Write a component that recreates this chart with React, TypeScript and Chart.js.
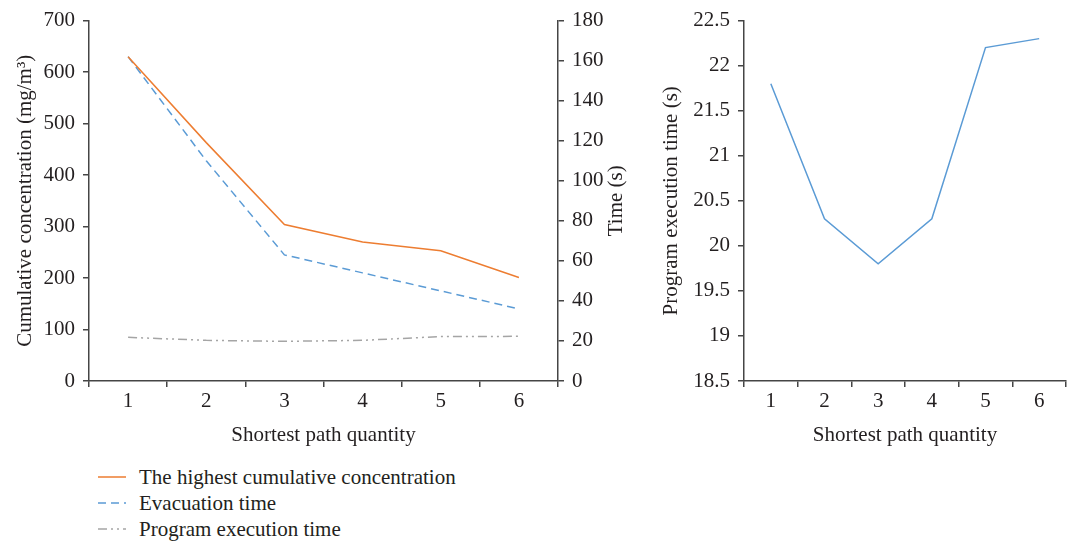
import React, { useEffect, useRef } from "react";
import { Chart, registerables } from "chart.js";

Chart.register(...registerables);

const categories = ["1", "2", "3", "4", "5", "6"];
const highestConcentration = [630, 463, 304, 270, 253, 201];
const evacuationTime = [162, 110, 63, 54, 45, 36];
const programExecutionTime = [21.8, 20.3, 19.8, 20.3, 22.2, 22.3];

const concentrationRange = [0, 700, 100];
const timeRange = [0, 180, 20];
const execRange = [18.5, 22.5, 0.5];

const seriesLabels = [
  "The highest cumulative concentration",
  "Evacuation time",
  "Program execution time",
];

const FONT_FAMILY = '"Liberation Serif", "Times New Roman", serif';
const TEXT = "#231f20";
const AXIS = "#454545";
const ORANGE = "#ED7D31";
const BLUE = "#5B9BD5";
const GRAY = "#A5A5A5";
const DASH_BLUE = [8, 5];
const DASH_GRAY = [9, 4, 2, 4, 2, 4];

const font = { family: FONT_FAMILY, size: 21 };

function baseX(title: string) {
  return {
    type: "category" as const,
    offset: true,
    grid: { offset: true, drawOnChartArea: false, drawTicks: true, tickLength: 6, color: AXIS, lineWidth: 1.5 },
    border: { display: true, color: AXIS, width: 1.5 },
    ticks: { color: TEXT, font, padding: 2, maxRotation: 0, autoSkip: false },
    title: { display: true, text: title, color: TEXT, font, padding: { top: 0, bottom: 1.5 } },
    afterFit: (s: any) => {
      s.height = 69;
    },
  };
}

function yAxis(range: number[], position: "left" | "right", width: number, title: string | null, titlePad: number) {
  return {
    type: "linear" as const,
    position,
    min: range[0],
    max: range[1],
    grid: { drawOnChartArea: false, drawTicks: true, tickLength: 6, color: AXIS, lineWidth: 1.5 },
    border: { display: true, color: AXIS, width: 1.5 },
    ticks: {
      stepSize: range[2],
      color: TEXT,
      font,
      padding: 8,
      callback: (v: any) => String(Math.round(Number(v) * 10) / 10),
    },
    title: title
      ? { display: true, text: title, color: TEXT, font, padding: { top: titlePad, bottom: 0 } }
      : { display: false },
    afterFit: (s: any) => {
      s.width = width;
    },
  };
}

const timeTitlePlugin = {
  id: "timeTitle",
  afterDraw(chart: any) {
    const { ctx, chartArea } = chart;
    ctx.save();
    ctx.translate(616, (chartArea.top + chartArea.bottom) / 2);
    ctx.rotate(-Math.PI / 2);
    ctx.textAlign = "center";
    ctx.textBaseline = "middle";
    ctx.fillStyle = TEXT;
    ctx.font = `21px ${FONT_FAMILY}`;
    ctx.fillText("Time (s)", 0, 0);
    ctx.restore();
  },
};

export default function App() {
  const leftRef = useRef<HTMLCanvasElement | null>(null);
  const rightRef = useRef<HTMLCanvasElement | null>(null);

  useEffect(() => {
    const left = new Chart(leftRef.current as HTMLCanvasElement, {
      type: "line",
      data: {
        labels: categories,
        datasets: [
          {
            label: seriesLabels[0],
            data: highestConcentration,
            yAxisID: "y",
            borderColor: ORANGE,
            borderWidth: 1.5,
            pointRadius: 0,
            tension: 0,
          },
          {
            label: seriesLabels[1],
            data: evacuationTime,
            yAxisID: "y1",
            borderColor: BLUE,
            borderWidth: 1.5,
            borderDash: DASH_BLUE,
            pointRadius: 0,
            tension: 0,
          },
          {
            label: seriesLabels[2],
            data: programExecutionTime,
            yAxisID: "y1",
            borderColor: GRAY,
            borderWidth: 1.5,
            borderDash: DASH_GRAY,
            pointRadius: 0,
            tension: 0,
          },
        ],
      },
      options: {
        responsive: false,
        animation: false,
        layout: { padding: { left: 0, right: 0, top: 17, bottom: 0 } },
        plugins: { legend: { display: false }, tooltip: { enabled: false } },
        scales: {
          x: baseX("Shortest path quantity"),
          y: yAxis(concentrationRange, "left", 89, "Cumulative concentration (mg/m\u00B3)", 13),
          y1: yAxis(timeRange, "right", 87, null, 0),
        },
      } as any,
      plugins: [timeTitlePlugin],
    });

    const right = new Chart(rightRef.current as HTMLCanvasElement, {
      type: "line",
      data: {
        labels: categories,
        datasets: [
          {
            label: seriesLabels[2],
            data: programExecutionTime,
            borderColor: BLUE,
            borderWidth: 1.5,
            pointRadius: 0,
            tension: 0,
          },
        ],
      },
      options: {
        responsive: false,
        animation: false,
        layout: { padding: { left: 0, right: 2, top: 18, bottom: 0 } },
        plugins: { legend: { display: false }, tooltip: { enabled: false } },
        scales: {
          x: baseX("Shortest path quantity"),
          y: yAxis(execRange, "left", 99, "Program execution time (s)", 14),
        },
      } as any,
    });

    return () => {
      left.destroy();
      right.destroy();
    };
  }, []);

  const legendRows = [
    { label: seriesLabels[0], color: ORANGE, dash: "" },
    { label: seriesLabels[1], color: BLUE, dash: DASH_BLUE.join(",") },
    { label: seriesLabels[2], color: GRAY, dash: DASH_GRAY.join(",") },
  ];
  const rowCenters = [477, 503, 529];

  return (
    <div style={{ position: "absolute", left: 0, top: 0, width: 1068, height: 542, background: "#fff", overflow: "hidden" }}>
      <canvas ref={leftRef} width={645} height={450} style={{ position: "absolute", left: 0, top: 0, width: 645, height: 450 }} />
      <canvas ref={rightRef} width={423} height={450} style={{ position: "absolute", left: 645, top: 0, width: 423, height: 450 }} />
      {legendRows.map((r, i) => (
        <div
          key={r.label}
          style={{
            position: "absolute",
            left: 96,
            top: rowCenters[i] - 13,
            height: 26,
            display: "flex",
            alignItems: "center",
            fontFamily: FONT_FAMILY,
            fontSize: 21,
            color: TEXT,
            whiteSpace: "nowrap",
          }}
        >
          <svg width={32} height={26} style={{ display: "block" }}>
            <line x1={2} y1={13} x2={30} y2={13} stroke={r.color} strokeWidth={1.5} strokeDasharray={r.dash || undefined} />
          </svg>
          <span style={{ marginLeft: 11, lineHeight: "26px" }}>{r.label}</span>
        </div>
      ))}
    </div>
  );
}
